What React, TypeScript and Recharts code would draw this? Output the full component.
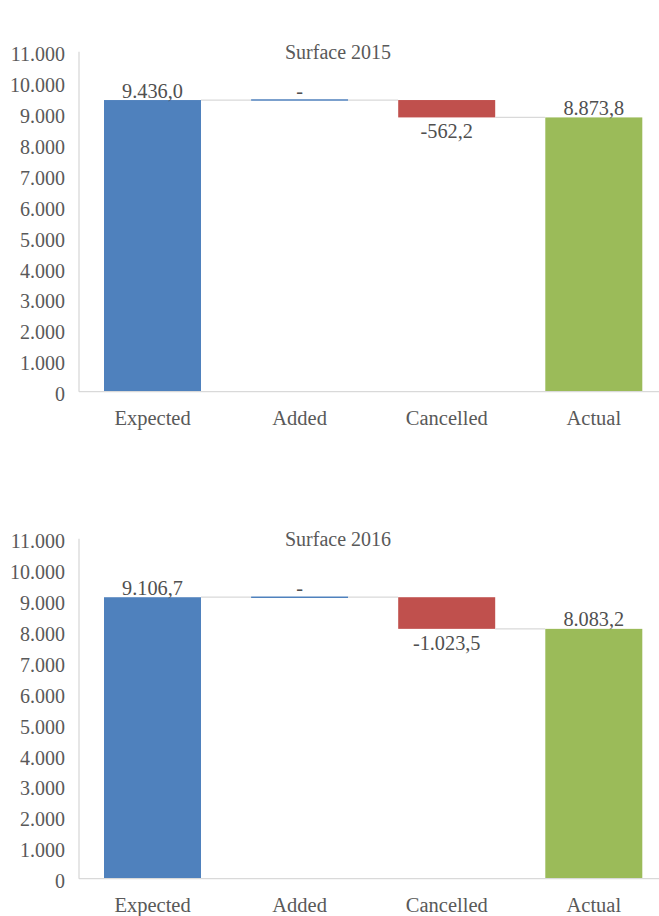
import React from 'react'
import { BarChart, Bar, XAxis, YAxis, LabelList } from 'recharts'

const categories = ['Expected', 'Added', 'Cancelled', 'Actual']
const changes2015 = [9436.0, 0, -562.2, 8873.8]
const changes2016 = [9106.7, 0, -1023.5, 8083.2]
const yTicks = [0, 1000, 2000, 3000, 4000, 5000, 6000, 7000, 8000, 9000, 10000, 11000]
const titles = ['Surface 2015', 'Surface 2016']

const FONT = '"Liberation Serif", "Times New Roman", serif'
const BLUE = '#4F81BD'
const RED = '#C0504D'
const GREEN = '#9BBB59'
const CONNECTOR = '#D9D9D9'
// half of the gap between two bars, in px
const GAP = 25

const CHART_W = 680
const CHART_H = 440

// "1.234,5" style numbers
function fmt(v: number, decimals: number) {
  const sign = v < 0 ? '-' : ''
  const [int, frac] = Math.abs(v).toFixed(decimals).split('.')
  const grouped = int.replace(/\B(?=(\d{3})+(?!\d))/g, '.')
  return sign + grouped + (frac ? ',' + frac : '')
}

function buildRows(changes: number[]) {
  let running = 0
  const last = changes.length - 1
  return changes.map((v, i) => {
    const isTotal = i === 0 || i === last
    if (isTotal) {
      running = v
      return { name: categories[i], base: 0, size: v, change: v, first: i === 0, last: i === last, total: true }
    }
    const start = running
    running += v
    return {
      name: categories[i],
      base: Math.min(start, running),
      size: Math.abs(v),
      change: v,
      first: false,
      last: false,
      total: false,
    }
  })
}

function WaterfallBar(props: any) {
  const { x, y, width, height, payload } = props
  const p = payload
  let color = BLUE
  if (p.total) color = p.first ? BLUE : GREEN
  else if (p.change < 0) color = RED

  const endY = p.change < 0 && !p.total ? y + height : y

  return (
    <g>
      {p.size === 0 ? (
        <line x1={x} x2={x + width} y1={y} y2={y} stroke={color} strokeWidth={1.4} />
      ) : (
        <rect x={x} y={y} width={width} height={height} fill={color} />
      )}
      {!p.last && (
        <line
          x1={x + width}
          x2={x + width + GAP * 2}
          y1={endY}
          y2={endY}
          stroke={CONNECTOR}
          strokeWidth={1.3}
        />
      )}
    </g>
  )
}

function ValueLabel(props: any) {
  const vb = props.viewBox || props
  const { x, y, width, height } = vb
  const value = props.value as number
  const below = value < 0
  const ty = below ? y + height + 21 : y - 2.5
  return (
    <text
      x={x + width / 2}
      y={ty}
      textAnchor="middle"
      fill="#505050"
      fontSize={20.3}
      fontFamily={FONT}
    >
      {value === 0 ? '-' : fmt(value, 1)}
    </text>
  )
}

function YTick(props: any) {
  const { x, y, payload } = props
  return (
    <text x={x} y={y + 9.5} textAnchor="end" fill="#595959" fontSize={20} fontFamily={FONT}>
      {fmt(payload.value, 0)}
    </text>
  )
}

function XTick(props: any) {
  const { x, y, payload } = props
  return (
    <text x={x} y={y + 33.5} textAnchor="middle" fill="#595959" fontSize={20.5} fontFamily={FONT}>
      {payload.value}
    </text>
  )
}

function Waterfall({ title, changes, top }: { title: string; changes: number[]; top: number }) {
  const rows = buildRows(changes)
  return (
    <div style={{ position: 'absolute', left: 0, top, width: CHART_W, height: CHART_H }}>
      <BarChart
        width={CHART_W}
        height={CHART_H}
        data={rows}
        barCategoryGap={GAP}
        margin={{ top: 51.7, right: 12.6, left: 0, bottom: 18.3 }}
      >
        <XAxis
          dataKey="name"
          height={30}
          tickSize={0}
          tickMargin={0}
          axisLine={{ stroke: CONNECTOR, strokeWidth: 1.3 }}
          tickLine={false}
          tick={<XTick />}
        />
        <YAxis
          width={79}
          domain={[0, 11000]}
          ticks={yTicks}
          tickSize={0}
          tickMargin={14}
          axisLine={{ stroke: CONNECTOR, strokeWidth: 1.3 }}
          tickLine={false}
          tick={<YTick />}
        />
        <Bar dataKey="base" stackId="w" fill="transparent" isAnimationActive={false} />
        <Bar dataKey="size" stackId="w" shape={<WaterfallBar />} isAnimationActive={false}>
          <LabelList dataKey="change" content={<ValueLabel />} />
        </Bar>
      </BarChart>
      <svg
        width={CHART_W}
        height={70}
        style={{ position: 'absolute', left: 0, top: 0, pointerEvents: 'none' }}
      >
        <text x={338} y={59.3} textAnchor="middle" fill="#595959" fontSize={20} fontFamily={FONT}>
          {title}
        </text>
      </svg>
    </div>
  )
}

export default function App() {
  return (
    <div
      style={{
        position: 'absolute',
        left: 0,
        top: 0,
        width: 659,
        height: 916,
        overflow: 'hidden',
        background: '#fff',
      }}
    >
      <Waterfall title={titles[0]} changes={changes2015} top={0} />
      <Waterfall title={titles[1]} changes={changes2016} top={487.3} />
    </div>
  )
}
